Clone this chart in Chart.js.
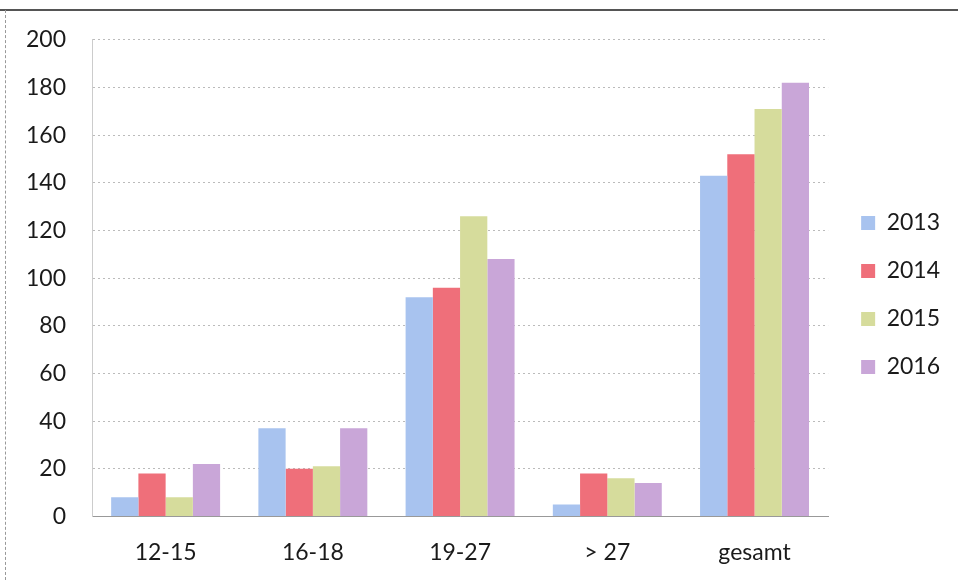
<!DOCTYPE html>
<html>
<head>
<meta charset="utf-8">
<script src="https://cdn.jsdelivr.net/npm/chart.js@4.4.1/dist/chart.umd.min.js"></script>
<style>
  html, body { margin: 0; padding: 0; background: #fff; }
  #wrap { position: relative; width: 958px; height: 580px; }
  #topline { position: absolute; left: 0; top: 9px; width: 958px; height: 2px; background: #555; }
  #leftline { position: absolute; left: 5px; top: 10px; width: 0; height: 570px; border-left: 1px dashed #999; }
  canvas { display: block; }
</style>
</head>
<body>
<div id="wrap">
  <canvas id="myChart" width="958" height="580"></canvas>
  <div id="topline"></div>
  <div id="leftline"></div>
</div>
<script>
const categories = ['12-15', '16-18', '19-27', '> 27', 'gesamt'];
const years = ['2013', '2014', '2015', '2016'];
const values2013 = [8, 37, 92, 5, 143];
const values2014 = [18, 20, 96, 18, 152];
const values2015 = [8, 21, 126, 16, 171];
const values2016 = [22, 37, 108, 14, 182];
const yTicks = [0, 20, 40, 60, 80, 100, 120, 140, 160, 180, 200];

const colors = ['#a8c3ef', '#ef6f7a', '#d6dc9c', '#c9a6d8'];
const series = [values2013, values2014, values2015, values2016];

// nudge the legend a bit up/right like in the original
const legendNudge = {
  id: 'legendNudge',
  afterLayout(chart) {
    const lg = chart.legend;
    lg.top -= 10; lg.bottom -= 10;
    lg.left += 8; lg.right += 8;
  }
};

const ctx = document.getElementById('myChart');
new Chart(ctx, {
  type: 'bar',
  data: {
    labels: categories,
    datasets: years.map((y, i) => ({
      label: y,
      data: series[i],
      backgroundColor: colors[i],
      borderWidth: 0,
      barPercentage: 1.0,
      categoryPercentage: 0.74
    }))
  },
  plugins: [legendNudge],
  options: {
    responsive: false,
    animation: false,
    layout: { padding: { top: 30, left: 0, right: 16, bottom: 0 } },
    plugins: {
      tooltip: { enabled: false },
      legend: {
        position: 'right',
        labels: {
          boxWidth: 14,
          boxHeight: 14,
          padding: 25,
          color: '#1a1a1a',
          font: { family: 'Lato', size: 23 }
        }
      }
    },
    scales: {
      x: {
        grid: { display: false },
        border: { color: '#999' },
        ticks: {
          color: '#1a1a1a',
          padding: 14,
          font: { family: 'Lato', size: 23 }
        }
      },
      y: {
        min: 0,
        max: 200,
        afterBuildTicks: axis => { axis.ticks = yTicks.map(v => ({ value: v })); },
        grid: { color: '#bbb', drawTicks: false },
        border: { display: true, color: '#ccc', dash: [2, 3] },
        ticks: {
          color: '#1a1a1a',
          padding: 26,
          font: { family: 'Lato', size: 23 }
        }
      }
    }
  }
});
</script>
</body>
</html>
